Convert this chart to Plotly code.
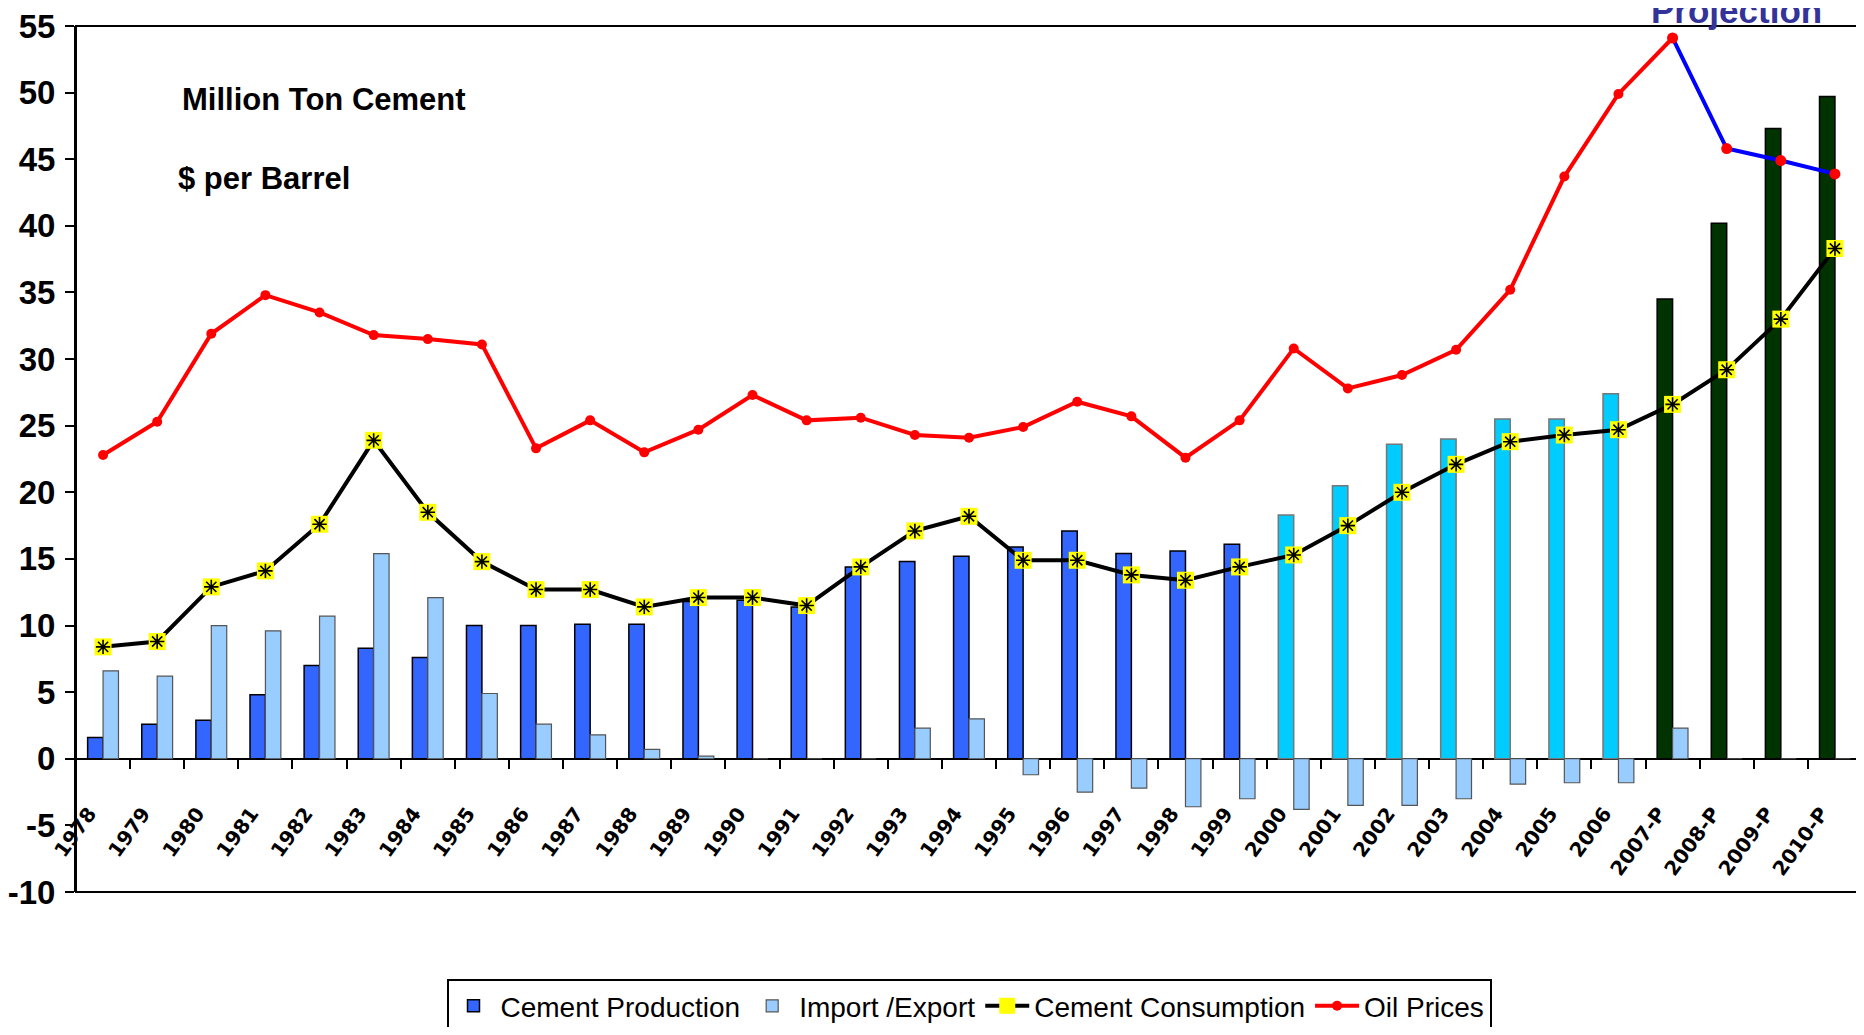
import plotly.graph_objects as go

years = ["1978", "1979", "1980", "1981", "1982", "1983", "1984", "1985", "1986", "1987",
         "1988", "1989", "1990", "1991", "1992", "1993", "1994", "1995", "1996", "1997",
         "1998", "1999", "2000", "2001", "2002", "2003", "2004", "2005", "2006",
         "2007-P", "2008-P", "2009-P", "2010-P"]

cement_production = [1.6, 2.6, 2.9, 4.8, 7.0, 8.3, 7.6, 10.0, 10.0, 10.1,
                     10.1, 11.8, 11.9, 11.4, 14.4, 14.8, 15.2, 15.9, 17.1, 15.4,
                     15.6, 16.1, 18.3, 20.5, 23.6, 24.0, 25.5, 25.5, 27.4,
                     34.5, 40.2, 47.3, 49.7]

import_export = [6.6, 6.2, 10.0, 9.6, 10.7, 15.4, 12.1, 4.9, 2.6, 1.8,
                 0.7, 0.2, 0, 0, 0, 2.3, 3.0, -1.2, -2.5, -2.2,
                 -3.6, -3.0, -3.8, -3.5, -3.5, -3.0, -1.9, -1.8, -1.8,
                 2.3, 0, 0, 0]

cement_consumption = [8.4, 8.8, 12.9, 14.1, 17.6, 23.9, 18.5, 14.8, 12.7, 12.7,
                      11.4, 12.1, 12.1, 11.5, 14.4, 17.1, 18.2, 14.9, 14.9, 13.8,
                      13.4, 14.4, 15.3, 17.5, 20.0, 22.1, 23.8, 24.3, 24.7,
                      26.6, 29.2, 33.0, 38.3]

oil_prices = [22.8, 25.3, 31.9, 34.8, 33.5, 31.8, 31.5, 31.1, 23.3, 25.4,
              23.0, 24.7, 27.3, 25.4, 25.6, 24.3, 24.1, 24.9, 26.8, 25.7,
              22.6, 25.4, 30.8, 27.8, 28.8, 30.7, 35.2, 43.7, 49.9,
              54.1, 45.8, 44.9, 43.9]

y_ticks = list(range(-10, 56, 5))
y_tick_labels = [str(v) for v in y_ticks]

SANS = "Liberation Sans, Arial, sans-serif"


def bar_fill(label):
    if label.endswith("-P"):
        return "#003300"
    if int(label[:4]) >= 2000:
        return "#00CCFF"
    return "#3366FF"


def bar_edge(label):
    if label.endswith("-P"):
        return "#000000"
    if int(label[:4]) >= 2000:
        return "#777777"
    return "#000000"


proj_start = years.index("2007-P")

fig = go.Figure()

fig.add_trace(go.Bar(
    x=years, y=cement_production, name="Cement Production",
    marker=dict(color=[bar_fill(l) for l in years],
                line=dict(color=[bar_edge(l) for l in years], width=1.5)),
))
fig.add_trace(go.Bar(
    x=years, y=import_export, name="Import /Export",
    marker=dict(color="#99CCFF", line=dict(color="#555555", width=1.2)),
))
fig.add_trace(go.Scatter(
    x=years, y=cement_consumption, name="Cement Consumption",
    mode="lines+markers", legendgroup="cons",
    line=dict(color="black", width=4),
    marker=dict(symbol="square", size=17, color="#FFFF00", line=dict(width=0)),
))
fig.add_trace(go.Scatter(
    x=years, y=cement_consumption, showlegend=False, legendgroup="cons",
    mode="markers", hoverinfo="skip",
    marker=dict(symbol="asterisk-open", size=12, color="black",
                line=dict(color="black", width=1.6)),
))
fig.add_trace(go.Scatter(
    x=years[:proj_start + 1], y=oil_prices[:proj_start + 1], name="Oil Prices",
    mode="lines+markers", legendgroup="oil",
    line=dict(color="#FF0000", width=4),
    marker=dict(symbol="circle", size=10, color="#FF0000"),
))
fig.add_trace(go.Scatter(
    x=years[proj_start:], y=oil_prices[proj_start:], showlegend=False,
    legendgroup="oil", mode="lines+markers",
    line=dict(color="#0000FF", width=4),
    marker=dict(symbol="circle", size=11, color="#FF0000"),
))

zero_frac = 10 / 65

fig.update_layout(
    width=1856, height=1019,
    margin=dict(l=68, r=2, t=18, b=135),
    paper_bgcolor="white", plot_bgcolor="white",
    barmode="group", bargap=0.43, bargroupgap=0,
    font=dict(family=SANS, color="black"),
    showlegend=True,
    legend=dict(orientation="h", xref="paper", x=0.5, xanchor="center",
                yref="container", y=0.047, yanchor="top",
                bordercolor="black", borderwidth=2, bgcolor="white",
                font=dict(family=SANS, size=28, color="black"),
                itemwidth=44, tracegroupgap=0),
    xaxis=dict(
        type="category", range=[-0.5, len(years) - 0.5],
        anchor="free", position=zero_frac, automargin=False,
        showline=False, showgrid=False, zeroline=False,
        ticks="outside", ticklen=9, tickwidth=2, tickcolor="black",
        tickson="boundaries", tickangle=-54,
        ticklabelstandoff=38, ticklabelshift=-14,
        tickfont=dict(family="DejaVu Sans", size=20, color="black", weight="bold"),
    ),
    yaxis=dict(
        range=[-10, 55], tickvals=y_ticks, ticktext=y_tick_labels, automargin=False,
        ticklabeloverflow="allow",
        showgrid=False, zeroline=True, zerolinecolor="black", zerolinewidth=2,
        showline=True, linecolor="black", linewidth=2,
        ticks="outside", ticklen=9, tickwidth=2, tickcolor="black",
        ticklabelstandoff=3,
        tickfont=dict(family=SANS, size=33, color="black", weight="bold"),
    ),
    shapes=[dict(type="rect", xref="paper", yref="paper", x0=0, x1=1, y0=0, y1=1,
                 line=dict(color="black", width=2), layer="above")],
    annotations=[
        dict(text="Million Ton Cement", xref="paper", yref="paper",
             x=0.058, y=0.915, xanchor="left", yanchor="middle", showarrow=False,
             font=dict(family=SANS, size=31, color="black", weight="bold")),
        dict(text="$ per Barrel", xref="paper", yref="paper",
             x=0.056, y=0.824, xanchor="left", yanchor="middle", showarrow=False,
             font=dict(family=SANS, size=31, color="black", weight="bold")),
        dict(text="Projection", xref="paper", yref="paper",
             x=0.93, y=1.0, xanchor="center", yanchor="bottom", showarrow=False,
             yshift=-6,
             font=dict(family=SANS, size=35, color="#333399", weight="bold")),
    ],
)

fig.write_html("out.html")
